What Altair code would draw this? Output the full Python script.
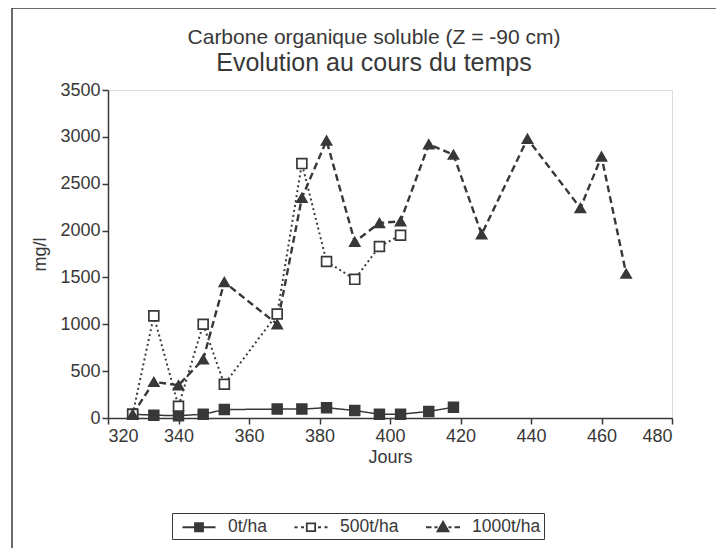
import altair as alt
import pandas as pd

series_names = ["0t/ha", "500t/ha", "1000t/ha"]
days_0 = [327, 333, 340, 347, 353, 368, 375, 382, 390, 397, 403, 411, 418]
vals_0 = [40, 30, 25, 40, 90, 95, 95, 110, 80, 40, 40, 70, 115]
days_500 = [327, 333, 340, 347, 353, 368, 375, 382, 390, 397, 403]
vals_500 = [40, 1090, 125, 1000, 360, 1110, 2715, 1670, 1480, 1830, 1950]
days_1000 = [327, 333, 340, 347, 353, 368, 375, 382, 390, 397, 403, 411, 418, 426, 439, 454, 460, 467]
vals_1000 = [40, 385, 350, 625, 1450, 1000, 2350, 2960, 1880, 2080, 2100, 2920, 2810, 1960, 2980, 2240, 2790, 1540]
x_ticks = [320, 340, 360, 380, 400, 420, 440, 460, 480]
y_ticks = [0, 500, 1000, 1500, 2000, 2500, 3000, 3500]

rows = []
for name, d, v in zip(series_names, [days_0, days_500, days_1000], [vals_0, vals_500, vals_1000]):
    for a, b in zip(d, v):
        rows.append({"Jours": a, "mg/l": b, "serie": name})
df = pd.DataFrame(rows)

INK = "#383838"
FONT = "Liberation Sans"

x = alt.X("Jours:Q", scale=alt.Scale(domain=[320, 480], nice=False),
          axis=alt.Axis(values=x_ticks, title="Jours", grid=False, tickSize=6, format="d",
                        labelFontSize=18, titleFontSize=18, titleFontWeight="normal",
                        labelColor=INK, titleColor=INK, domainColor=INK, tickColor=INK,
                        titlePadding=3, labelPadding=3, domainWidth=1.5, tickWidth=1.5))
y = alt.Y("mg/l:Q", scale=alt.Scale(domain=[0, 3500], nice=False),
          axis=alt.Axis(values=y_ticks, title="mg/l", grid=False, tickSize=6, format="d",
                        labelFontSize=18, titleFontSize=18, titleFontWeight="normal",
                        labelColor=INK, titleColor=INK, domainColor=INK, tickColor=INK,
                        titlePadding=10, labelPadding=2, domainWidth=1.5, tickWidth=1.5))

# legend glyphs: line segments + marker, in the unit box of a Vega symbol
path_0 = "M-1.65,0H1.65M-0.4,-0.4H0.4V0.4H-0.4Z"
path_500 = "M-1.65,0H-1.35M-1.0,0H-0.7M0.7,0H1.0M1.35,0H1.65M-0.42,-0.38H0.42V0.38H-0.42Z"
path_1000 = "M-1.7,0H-1.15M1.15,0H1.7M-0.85,0H-0.55M0.55,0H0.85M0,-0.55L0.55,0.4H-0.55Z"

leg = alt.Legend(
    title=None, orient="none", legendX=64, legendY=423, direction="horizontal",
    columns=3, strokeColor=INK, padding=3, labelFontSize=17.5, labelColor=INK,
    labelFont=FONT, symbolSize=400, symbolOffset=13, labelOffset=18, columnPadding=20,
    symbolStrokeColor=INK, symbolStrokeWidth=1.8, symbolOpacity=1,
)

lines = alt.Chart(df).mark_line(color=INK).encode(
    x=x, y=y,
    strokeDash=alt.StrokeDash("serie:N", scale=alt.Scale(domain=series_names, range=[[1, 0], [2, 3], [7, 4]]), legend=None),
    strokeWidth=alt.StrokeWidth("serie:N", scale=alt.Scale(domain=series_names, range=[1.5, 2.4, 2.8]), legend=None),
)
points = alt.Chart(df).mark_point(filled=False, strokeWidth=1.7, opacity=1, color=INK).encode(
    x=x, y=y,
    shape=alt.Shape("serie:N", scale=alt.Scale(domain=series_names, range=["square", "square", "triangle-up"]), legend=None),
    fill=alt.Fill("serie:N", scale=alt.Scale(domain=series_names, range=[INK, "white", INK]), legend=None),
    size=alt.Size("serie:N", scale=alt.Scale(domain=series_names, range=[95, 100, 220]), legend=None),
)
legend_layer = alt.Chart(df).transform_filter("false").mark_point(
    filled=False, strokeWidth=1.8, opacity=1).encode(
    shape=alt.Shape("serie:N", scale=alt.Scale(domain=series_names, range=[path_0, path_500, path_1000]), legend=leg),
    fill=alt.Fill("serie:N", scale=alt.Scale(domain=series_names, range=[INK, "white", INK]), legend=leg),
    stroke=alt.Stroke("serie:N", scale=alt.Scale(domain=series_names, range=[INK, INK, INK]), legend=leg),
)

frame_df = pd.DataFrame({"k": [0]})
frame_left = alt.Chart(frame_df).mark_rule(color=INK, strokeWidth=1.5).encode(
    x=alt.value(-96), y=alt.value(-82), y2=alt.value(470))
frame_top = alt.Chart(frame_df).mark_rule(color=INK, strokeWidth=1.5).encode(
    x=alt.value(-96), x2=alt.value(620), y=alt.value(-82))

chart = alt.layer(frame_left, frame_top, lines, points, legend_layer).resolve_scale(
    shape="independent", fill="independent", stroke="independent"
).properties(
    width=564, height=328,
    title=alt.TitleParams("Carbone organique soluble (Z = -90 cm)",
                          subtitle="Evolution au cours du temps",
                          fontSize=21, subtitleFontSize=25, font=FONT, subtitleFont=FONT,
                          fontWeight="normal", color=INK, subtitleColor=INK,
                          anchor="middle", dx=-16, offset=-69, subtitlePadding=3),
    autosize=alt.AutoSizeParams(type="none"),
    padding={"left": 100, "top": 82, "right": 44, "bottom": 130},
).configure_view(stroke=INK, strokeWidth=1.5).configure(font=FONT)

chart.save("out.html", embed_options={"renderer": "svg", "actions": False})
